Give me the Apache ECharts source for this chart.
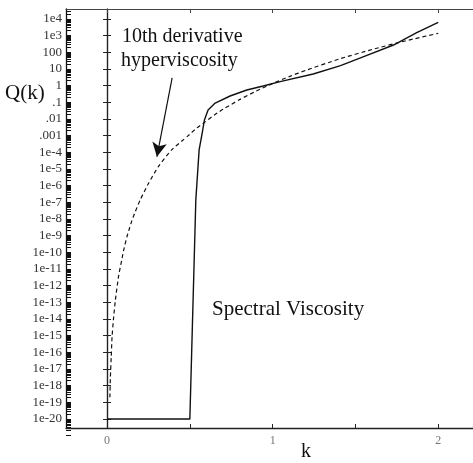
<!DOCTYPE html>
<html>
<head>
<meta charset="utf-8">
<script src="https://cdn.jsdelivr.net/npm/echarts@6/dist/echarts.min.js"></script>
<style>html,body{margin:0;padding:0;background:#fff}#c{width:473px;height:463px}</style>
</head>
<body>
<div id="c"></div>
<script>
// ---- data ----
// Spectral viscosity (solid)
var specK = [0, 0.5, 0.536, 0.556, 0.575, 0.588, 0.61, 0.653, 0.743, 0.844, 0.943, 1.045, 1.245, 1.41, 1.55, 1.73, 1.87, 2.0];
var specQ = [1e-20, 1e-20, 1.4e-7, 1.4e-4, 1.5e-3, 8.7e-3, 0.035, 0.09, 0.24, 0.55, 0.95, 1.74, 5, 16, 55, 275, 1500, 6300];
// 10th derivative hyperviscosity (dashed)
var hypK = [0.017, 0.02, 0.025, 0.03, 0.04, 0.05, 0.07, 0.09, 0.1, 0.12, 0.135, 0.15, 0.17, 0.2, 0.25, 0.31, 0.39, 0.45, 0.49, 0.54, 0.59, 0.65, 0.7, 0.8, 0.9, 1.0, 1.1, 1.2, 1.4, 1.6, 1.8, 2.0];
var hypQ = [2e-19, 3e-18, 5e-17, 8e-16, 1.4e-14, 1.3e-13, 4e-12, 4e-11, 1.3e-10, 8.5e-10, 2.7e-9, 8e-9, 2.7e-8, 1.4e-7, 1.35e-6, 1.4e-5, 1.4e-4, 4.6e-4, 1e-3, 2.8e-3, 6.5e-3, 0.018, 0.038, 0.145, 0.47, 1.35, 3.5, 8.3, 39, 148, 480, 1380];
// arrow annotation (start -> tip), in data units
var arrowK = [0.393, 0.301];
var arrowQ = [2.9, 5.5e-5];
// axis ticks / labels
var xTicks = [0, 0.5, 1, 1.5, 2];
var xLabels = [0, 1, 2];
var yExponents = [4, 3, 2, 1, 0, -1, -2, -3, -4, -5, -6, -7, -8, -9, -10, -11, -12, -13, -14, -15, -16, -17, -18, -19, -20];
var yTickLabels = ['1e4', '1e3', '100', '10', '1', '.1', '.01', '.001', '1e-4', '1e-5', '1e-6', '1e-7', '1e-8', '1e-9', '1e-10', '1e-11', '1e-12', '1e-13', '1e-14', '1e-15', '1e-16', '1e-17', '1e-18', '1e-19', '1e-20'];

var yDecades = yExponents.map(function (e) { return Math.pow(10, e); });
var yMinor = [];
for (var d = -21; d <= 4; d++) {
  for (var m = 1; m <= 9; m++) yMinor.push(m * Math.pow(10, d));
}
var labelMap = {};
yExponents.forEach(function (e, i) { labelMap[e] = yTickLabels[i]; });

var serif = "'Liberation Serif', 'DejaVu Serif', serif";
var yMin = Math.pow(10, -20.54), yMax = Math.pow(10, 4.6);
var xMin = -0.248, xMax = 2.21;

function zip(a, b) { return a.map(function (v, i) { return [v, b[i]]; }); }

var chart = echarts.init(document.getElementById('c'), null, { renderer: 'canvas' });
chart.setOption({
  animation: false,
  backgroundColor: '#fff',
  grid: { left: 66, right: 0, top: 9, bottom: 35, containLabel: false },
  xAxis: [
    {
      type: 'value', position: 'bottom', min: xMin, max: xMax,
      axisLine: { onZero: false, lineStyle: { color: '#222', width: 1.3 } },
      axisTick: { inside: true, length: 4, customValues: xTicks, lineStyle: { color: '#222' } },
      axisLabel: { customValues: xLabels, color: '#777', fontFamily: serif, fontSize: 12, margin: 7 },
      splitLine: { show: false }
    },
    {
      type: 'value', position: 'top', min: xMin, max: xMax,
      axisLine: { onZero: false, lineStyle: { color: '#444', width: 1.2 } },
      axisTick: { inside: true, length: 4, customValues: xTicks, lineStyle: { color: '#444' } },
      axisLabel: { show: false },
      splitLine: { show: false }
    }
  ],
  yAxis: [
    {
      type: 'log', logBase: 10, min: yMin, max: yMax, position: 'left',
      axisLine: { show: true, onZero: true, lineStyle: { color: '#222', width: 1.2 } },
      axisTick: { show: true, inside: true, length: 4, customValues: yDecades, lineStyle: { color: '#222' } },
      axisLabel: { show: false },
      splitLine: { show: false }
    },
    {
      type: 'log', logBase: 10, min: yMin, max: yMax, position: 'left',
      axisLine: { show: true, onZero: true, lineStyle: { color: '#222', width: 1.2 } },
      axisTick: { show: true, inside: false, length: 4, customValues: yDecades, lineStyle: { color: '#222' } },
      axisLabel: { show: false },
      splitLine: { show: false }
    },
    {
      type: 'log', logBase: 10, min: yMin, max: yMax, position: 'left',
      axisLine: { show: true, onZero: false, lineStyle: { color: '#111', width: 1.3 } },
      axisTick: { show: true, inside: true, length: 5, customValues: yMinor, lineStyle: { color: '#111', width: 1 } },
      axisLabel: {
        customValues: yDecades, margin: 4, color: '#333', fontFamily: serif, fontSize: 13,
        formatter: function (v) { return labelMap[Math.round(Math.log10(v))]; }
      },
      splitLine: { show: false }
    }
  ],
  series: [
    {
      name: 'Spectral Viscosity', type: 'line', xAxisIndex: 0, yAxisIndex: 0,
      data: zip(specK, specQ), showSymbol: false, smooth: false,
      lineStyle: { color: '#111', width: 1.4 }
    },
    {
      name: '10th derivative hyperviscosity', type: 'line', xAxisIndex: 0, yAxisIndex: 0,
      data: zip(hypK, hypQ), showSymbol: false, smooth: 0.2,
      lineStyle: { color: '#111', width: 1.2, type: [4, 3] },
      markLine: {
        silent: true, symbol: ['none', 'arrow'], symbolSize: [11, 14],
        label: { show: false },
        itemStyle: { color: '#111' },
        lineStyle: { color: '#111', width: 1.2, type: 'solid' },
        data: [[{ coord: [arrowK[0], arrowQ[0]] }, { coord: [arrowK[1], arrowQ[1]] }]]
      }
    }
  ],
  graphic: [
    { type: 'text', left: 5, top: 83, style: { text: 'Q(k)', font: '21px ' + serif, fill: '#111' } },
    { type: 'text', left: 122, top: 27, style: { text: '10th derivative', font: '20px ' + serif, fill: '#111' } },
    { type: 'text', left: 121, top: 51, style: { text: 'hyperviscosity', font: '20px ' + serif, fill: '#111' } },
    { type: 'text', left: 212, top: 299, style: { text: 'Spectral Viscosity', font: '21px ' + serif, fill: '#111' } },
    { type: 'text', left: 301, top: 442, style: { text: 'k', font: '20px ' + serif, fill: '#111' } }
  ]
});
</script>
</body>
</html>
